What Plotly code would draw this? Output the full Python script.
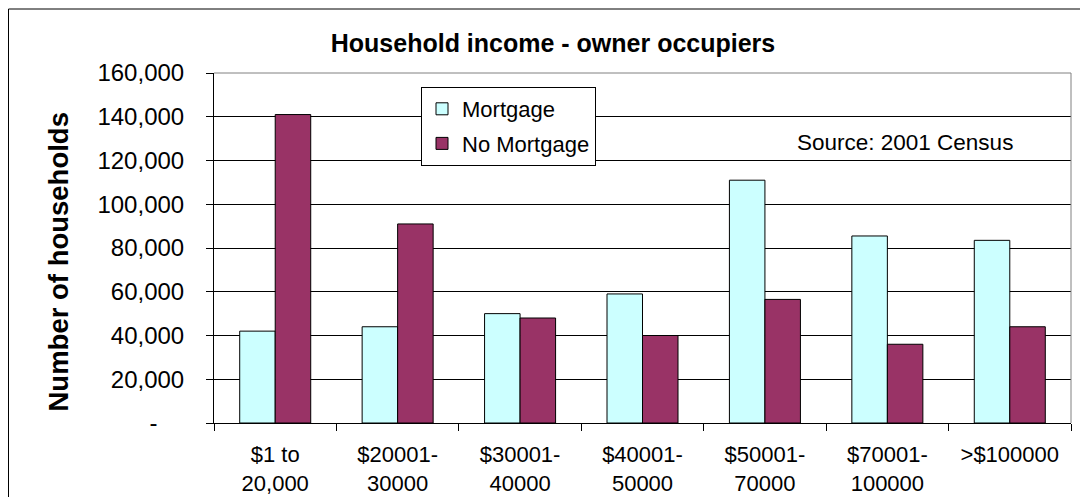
import plotly.graph_objects as go

categories = ["$1 to<br>20,000", "$20001-<br>30000", "$30001-<br>40000", "$40001-<br>50000",
              "$50001-<br>70000", "$70001-<br>100000", ">$100000"]
mortgage = [42000, 44000, 50000, 59000, 111000, 85500, 83500]
no_mortgage = [141000, 91000, 48000, 40000, 56500, 36000, 44000]
y_tickvals = [0, 20000, 40000, 60000, 80000, 100000, 120000, 140000, 160000]
y_ticktext = ["-\u00a0\u00a0\u00a0\u00a0", "20,000", "40,000", "60,000", "80,000",
              "100,000", "120,000", "140,000", "160,000"]

FONT = "Liberation Sans, Arial, sans-serif"
OFF = 8  # page body margin offset

fig = go.Figure()
fig.add_trace(go.Bar(x=categories, y=mortgage, name="Mortgage", legendgroup="a",
                     marker=dict(color="#CCFFFF", line=dict(color="black", width=1))))
fig.add_trace(go.Bar(x=categories, y=no_mortgage, name="No Mortgage", legendgroup="b",
                     marker=dict(color="#993366", line=dict(color="black", width=1))))

fig.update_layout(
    width=1088, height=497,
    margin=dict(l=214-OFF, r=1088-(1071-OFF), t=73-OFF, b=497-(423-OFF), autoexpand=False),
    paper_bgcolor="white", plot_bgcolor="white",
    barmode="group", bargap=0.42, bargroupgap=0,
    font=dict(family=FONT, color="black", size=22),
    title=dict(text="<b>Household income - owner occupiers</b>", x=(553-OFF)/1088, xanchor="center",
               y=1-(43-OFF)/497, yanchor="middle", font=dict(size=25, family=FONT, color="black")),
    showlegend=True,
    legend=dict(x=(421-214)/857, y=(423-87)/350, xanchor="left", yanchor="top",
                bgcolor="white", bordercolor="black", borderwidth=1,
                font=dict(size=22, family=FONT), traceorder="grouped",
                tracegroupgap=3, itemwidth=30),
    xaxis=dict(type="category", tickson="boundaries", ticks="outside", ticklen=7,
               tickcolor="black", showline=True, linecolor="black", linewidth=1,
               showgrid=False, tickfont=dict(size=22, family=FONT), fixedrange=True,
               ticklabelstandoff=12, automargin=False),
    yaxis=dict(range=[0, 160000], tickvals=y_tickvals, ticktext=y_ticktext,
               ticks="outside", ticklen=7, tickcolor="black", showline=True,
               linecolor="black", linewidth=1, showgrid=True, gridcolor="black",
               gridwidth=1, zeroline=False, tickfont=dict(size=24, family=FONT),
               ticklabelstandoff=17, automargin=False),
    annotations=[
        dict(text="<b>Number of households</b>", textangle=-90, xref="paper", yref="paper",
             x=(57.5-214)/857, y=(423-262)/350, xanchor="center", yanchor="middle",
             showarrow=False, font=dict(size=27.5, family=FONT, color="black")),
        dict(text="Source: 2001 Census", xref="paper", yref="paper",
             x=(905-214)/857, y=(423-142)/350, xanchor="center", yanchor="middle",
             showarrow=False, font=dict(size=22.5, family=FONT, color="black")),
    ],
    shapes=[
        dict(type="line", xref="paper", yref="paper", x0=0, x1=1, y0=1, y1=1,
             line=dict(color="#808080", width=1), layer="above"),
        dict(type="line", xref="paper", yref="paper", x0=1, x1=1, y0=0, y1=1,
             line=dict(color="#808080", width=1), layer="above"),
        dict(type="rect", xref="paper", yref="paper", x0=(8.5-214)/857, x1=1.06,
             y0=-0.35, y1=(423-9)/350, line=dict(color="black", width=1), layer="below"),
    ],
)

fig.write_html("out.html")
